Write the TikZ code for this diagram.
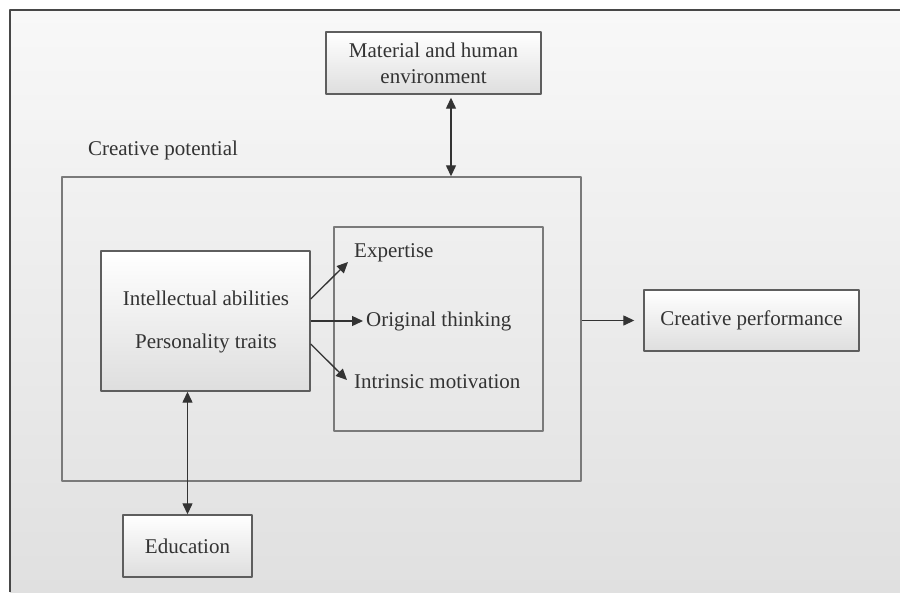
\documentclass[tikz,border=0pt]{standalone}
\usepackage{fontspec}
\setmainfont{Liberation Serif}
\usetikzlibrary{arrows.meta}
\definecolor{txtgray}{HTML}{333333}
\definecolor{boxline}{HTML}{5E5E5E}
\definecolor{frameline}{HTML}{7A7A7A}
\definecolor{boxbot}{HTML}{DEDEDE}
\definecolor{bgtop}{HTML}{F8F8F8}
\definecolor{bgbot}{HTML}{E0E0E0}
\definecolor{arrline}{HTML}{333333}
\begin{document}
\begin{tikzpicture}[x=1pt,y=-1pt,line join=round,>={Triangle[length=11pt,width=10pt]},font=\fontsize{21}{26}\selectfont]
	\tikzset{
		hop/.style={draw=boxline,line width=1.4pt,top color=white,bottom color=boxbot,text=txtgray,align=center,inner sep=0pt},
		khung/.style={draw=frameline,line width=1.4pt,inner sep=0pt},
		chu/.style={text=txtgray,inner sep=0pt},
		mui/.style={draw=arrline,line width=1.3pt,fill=arrline,<->},
		muiA/.style={draw=arrline,line width=1.3pt,->}
	}
	\useasboundingbox (0,0) rectangle (900,592);
	%Nền
	\shade[top color=bgtop,bottom color=bgbot] (10,10) rectangle (900,592);
	\draw[draw=arrline!90,line width=2pt] (10,592)--(10,10)--(900,10);
	%Các khung
	\node[khung,minimum width=519pt,minimum height=304pt] (pot) at (321.5,329) {};
	\node[chu] (potlbl) at (163,150) {Creative potential};
	\node[hop,minimum width=215pt,minimum height=62pt] (mat) at (433.5,63) {Material and human\\environment};
	\node[hop,minimum width=209pt,minimum height=140pt] (trt) at (205.5,321) {};
	\node[chu] (intel) at (206,298) {Intellectual abilities};
	\node[chu] (pers) at (206,343) {Personality traits};
	\node[khung,minimum width=209pt,minimum height=204pt] (outc) at (438.5,329) {};
	\node[chu,anchor=west] (exp) at (354,253) {Expertise};
	\node[chu,anchor=west] (orig) at (366,321) {Original thinking};
	\node[chu,anchor=west] (intr) at (354,382) {Intrinsic motivation};
	\node[hop,minimum width=215pt,minimum height=61pt] (perf) at (751.5,320.5) {Creative performance};
	\node[hop,minimum width=129pt,minimum height=62pt] (edu) at (187.5,546) {Education};
	%Mũi tên
	\draw[mui] ([xshift=17.5pt,yshift=-3pt]mat.south) -- ([xshift=17.5pt]mat.south |- pot.north);
	\draw[mui] (trt.south -| edu.north) -- (edu.north);
	\draw[muiA] ([yshift=22pt]trt.east) -- ([xshift=-6pt,yshift=-9pt]exp.west);
	\draw[muiA] (trt.east |- orig.west) -- ([xshift=-3pt]orig.west);
	\draw[muiA] ([yshift=-23pt]trt.east) -- ([xshift=-7pt,yshift=2pt]intr.west);
	\draw[muiA] (pot.east |- perf.west) -- ([xshift=-9pt]perf.west);
\end{tikzpicture}
\end{document}
